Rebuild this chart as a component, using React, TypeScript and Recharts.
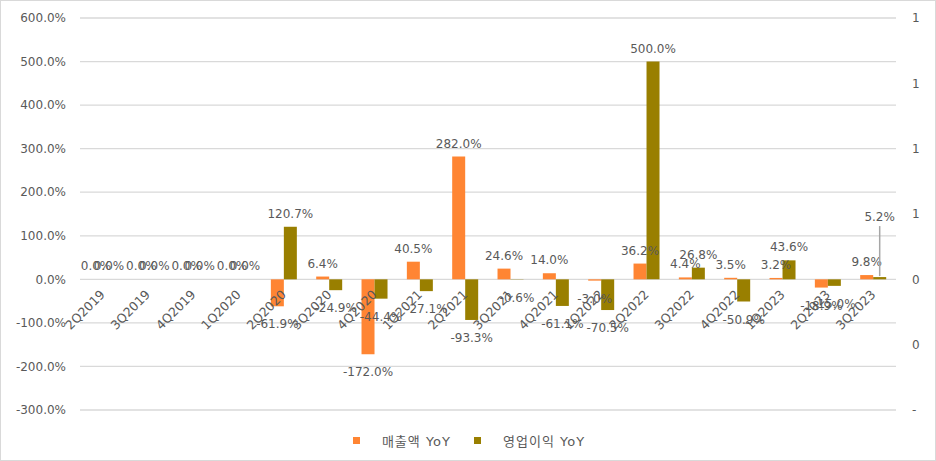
import React from "react";
import { BarChart, Bar, XAxis, YAxis, CartesianGrid, LabelList } from "recharts";

const TEXT_COLOR = "#595959";
const GRID_COLOR = "#d9d9d9";
const REVENUE_COLOR = "#ff8533";
const OP_COLOR = "#997f00";
const FONT = "'DejaVu Sans', 'Noto Sans CJK KR', sans-serif";

const quarters = [
    "2Q2019", "3Q2019", "4Q2019", "1Q2020", "2Q2020", "3Q2020", "4Q2020", "1Q2021", "2Q2021",
    "3Q2021", "4Q2021", "1Q2022", "2Q2022", "3Q2022", "4Q2022", "1Q2023", "2Q2023", "3Q2023",
];
const revenueYoY = [0, 0, 0, 0, -61.9, 6.4, -172.0, 40.5, 282.0, 24.6, 14.0, -3.0, 36.2, 4.4, 3.5, 3.2, -18.9, 9.8];
const opIncomeYoY = [0, 0, 0, 0, 120.7, -24.9, -44.4, -27.1, -93.3, -0.6, -61.1, -70.5, 500.0, 26.8, -50.9, 43.6, -15.0, 5.2];

const leftTicks = [-300, -200, -100, 0, 100, 200, 300, 400, 500, 600];
const rightTicks = [-300, -150, 0, 150, 300, 450, 600];
const rightTickLabels = ["-", "0", "0", "1", "1", "1", "1"];

const seriesNames = ["매출액 YoY", "영업이익 YoY"];

const data = quarters.map((q, i) => ({ quarter: q, revenue: revenueYoY[i], op: opIncomeYoY[i] }));

const WIDTH = 936;
const HEIGHT = 461;
const MARGIN = { top: 18, right: 0, bottom: 50, left: 0 };
const X_AXIS_H = 1;
const Y_MIN = -300;
const Y_MAX = 600;
const PLOT_H = HEIGHT - MARGIN.top - MARGIN.bottom - X_AXIS_H;
const ZERO_Y = MARGIN.top + (PLOT_H * Y_MAX) / (Y_MAX - Y_MIN);

// the 3Q2023 operating label sits higher with a leader line
const LEADER_QUARTER = "3Q2023";
const LEADER_LIFT = 46;

const fmt = (v: number) => `${v.toFixed(1)}%`;

const QuarterTick = (props: any) => {
    const { x, payload } = props;
    const ax = x + 3;
    const ay = ZERO_Y + 16;
    return (
        <text
            x={ax}
            y={ay}
            transform={`rotate(-45, ${ax}, ${ay})`}
            textAnchor="end"
            fill={TEXT_COLOR}
            fontSize={12.5}
            fontFamily={FONT}
        >
            {payload.value}
        </text>
    );
};

const makeValueLabel = (withLeader: boolean) => (props: any) => {
    const { x, y, width, height, value, index } = props;
    const top = Math.min(y, y + height);
    const bottom = Math.max(y, y + height);
    const cx = x + width / 2;
    const isLeader =
        withLeader && (props.payload?.quarter === LEADER_QUARTER || index === quarters.indexOf(LEADER_QUARTER));
    if (isLeader) {
        const ty = top - 10 - LEADER_LIFT;
        return (
            <g>
                <line x1={cx} y1={ty + 5} x2={cx} y2={top - 1} stroke="#a6a6a6" strokeWidth={1.5} />
                <text x={cx} y={ty} textAnchor="middle" fill={TEXT_COLOR} fontSize={12} fontFamily={FONT}>
                    {fmt(value)}
                </text>
            </g>
        );
    }
    const ty = value >= 0 ? top - 9 : bottom + 22;
    return (
        <text x={cx} y={ty} textAnchor="middle" fill={TEXT_COLOR} fontSize={12} fontFamily={FONT}>
            {fmt(value)}
        </text>
    );
};

const LegendBox: React.FC = () => {
    const colors = [REVENUE_COLOR, OP_COLOR];
    return (
        <div
            style={{
                position: "absolute",
                left: 0,
                top: 430,
                width: WIDTH,
                display: "flex",
                justifyContent: "center",
                fontFamily: FONT,
                fontSize: 13,
                color: TEXT_COLOR,
            }}
        >
            {seriesNames.map((name, i) => (
                <div key={name} style={{ display: "flex", alignItems: "center", marginRight: i === 0 ? 23 : 0 }}>
                    <span style={{ width: 7, height: 7, background: colors[i], display: "inline-block", marginRight: 22 }} />
                    <span style={{ letterSpacing: 1 }}>{name}</span>
                </div>
            ))}
        </div>
    );
};

export default function App() {
    return (
        <div
            style={{
                position: "absolute",
                left: 0,
                top: 0,
                width: WIDTH,
                height: HEIGHT,
                boxSizing: "border-box",
                border: "1px solid #d9d9d9",
                background: "#fff",
            }}
        >
            <div style={{ position: "absolute", left: -1, top: -1 }}>
                <BarChart
                    width={WIDTH}
                    height={HEIGHT}
                    data={data}
                    margin={MARGIN}
                    barCategoryGap="21%"
                    barGap={0}
                >
                    <CartesianGrid yAxisId="left" vertical={false} stroke={GRID_COLOR} strokeWidth={1.3} />
                    <XAxis
                        dataKey="quarter"
                        height={X_AXIS_H}
                        axisLine={false}
                        tickLine={false}
                        interval={0}
                        tick={<QuarterTick />}
                    />
                    <YAxis
                        yAxisId="left"
                        width={80}
                        domain={[Y_MIN, Y_MAX]}
                        ticks={leftTicks}
                        tickFormatter={(v: number) => fmt(v)}
                        axisLine={false}
                        tickLine={false}
                        tickSize={0}
                        tickMargin={14}
                        tick={{ fill: TEXT_COLOR, fontSize: 12, fontFamily: FONT }}
                    />
                    <YAxis
                        yAxisId="right"
                        orientation="right"
                        width={40}
                        domain={[Y_MIN, Y_MAX]}
                        ticks={rightTicks}
                        tickFormatter={(v: number) => rightTickLabels[rightTicks.indexOf(v)]}
                        axisLine={false}
                        tickLine={false}
                        tickSize={0}
                        tickMargin={16}
                        tick={{ fill: TEXT_COLOR, fontSize: 12, fontFamily: FONT }}
                    />
                    <Bar
                        yAxisId="left"
                        dataKey="revenue"
                        name={seriesNames[0]}
                        fill={REVENUE_COLOR}
                        minPointSize={0.01}
                        isAnimationActive={false}
                    >
                        <LabelList dataKey="revenue" content={makeValueLabel(false)} />
                    </Bar>
                    <Bar
                        yAxisId="right"
                        dataKey="op"
                        name={seriesNames[1]}
                        fill={OP_COLOR}
                        minPointSize={0.01}
                        isAnimationActive={false}
                    >
                        <LabelList dataKey="op" content={makeValueLabel(true)} />
                    </Bar>
                </BarChart>
            </div>
            <LegendBox />
        </div>
    );
}
